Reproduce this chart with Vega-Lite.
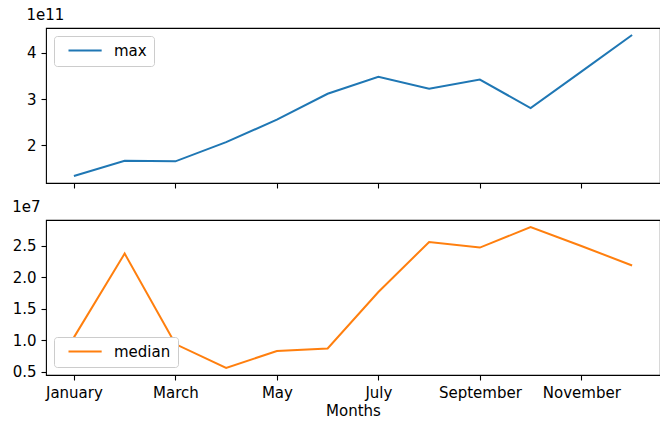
{
  "$schema": "https://vega.github.io/schema/vega-lite/v6.json",
  "padding": {"left": 11, "top": 7, "right": 1, "bottom": 2},
  "background": "white",
  "config": {
    "font": "DejaVu Sans",
    "view": {"stroke": "#000", "strokeWidth": 1.1},
    "axis": {"domain": false, "grid": false, "tickColor": "#000", "tickSize": 5, "tickWidth": 1.1, "labelColor": "#000", "labelFontSize": 15, "labelPadding": 5, "titleFontWeight": "normal", "titleColor": "#000", "titleFontSize": 15},
    "title": {"fontSize": 15, "fontWeight": "normal", "anchor": "start", "color": "#000", "offset": 5},
    "legend": {"fillColor": "white", "strokeColor": "#cccccc", "cornerRadius": 3, "padding": 7, "symbolType": "M0,0H10", "symbolSize": 44, "symbolStrokeWidth": 2, "labelFontSize": 15, "labelColor": "#000", "labelOffset": 38, "offset": 8},
    "concat": {"spacing": 9}
  },
  "data": {"values": [
    {"m": 0, "month": "January", "stat": "max", "value": 1.343e11},
    {"m": 1, "month": "February", "stat": "max", "value": 1.67e11},
    {"m": 2, "month": "March", "stat": "max", "value": 1.657e11},
    {"m": 3, "month": "April", "stat": "max", "value": 2.07e11},
    {"m": 4, "month": "May", "stat": "max", "value": 2.557e11},
    {"m": 5, "month": "June", "stat": "max", "value": 3.113e11},
    {"m": 6, "month": "July", "stat": "max", "value": 3.477e11},
    {"m": 7, "month": "August", "stat": "max", "value": 3.22e11},
    {"m": 8, "month": "September", "stat": "max", "value": 3.42e11},
    {"m": 9, "month": "October", "stat": "max", "value": 2.805e11},
    {"m": 10, "month": "November", "stat": "max", "value": 3.59e11},
    {"m": 11, "month": "December", "stat": "max", "value": 4.378e11},
    {"m": 0, "month": "January", "stat": "median", "value": 1.043e7},
    {"m": 1, "month": "February", "stat": "median", "value": 2.373e7},
    {"m": 2, "month": "March", "stat": "median", "value": 0.937e7},
    {"m": 3, "month": "April", "stat": "median", "value": 0.558e7},
    {"m": 4, "month": "May", "stat": "median", "value": 0.826e7},
    {"m": 5, "month": "June", "stat": "median", "value": 0.868e7},
    {"m": 6, "month": "July", "stat": "median", "value": 1.763e7},
    {"m": 7, "month": "August", "stat": "median", "value": 2.557e7},
    {"m": 8, "month": "September", "stat": "median", "value": 2.468e7},
    {"m": 9, "month": "October", "stat": "median", "value": 2.794e7},
    {"m": 10, "month": "November", "stat": "median", "value": 2.494e7},
    {"m": 11, "month": "December", "stat": "median", "value": 2.184e7}
  ]},
  "vconcat": [
    {
      "width": 614, "height": 155,
      "title": "1e11",
      "transform": [{"filter": "datum.stat === 'max'"}],
      "mark": {"type": "line", "strokeWidth": 2},
      "encoding": {
        "x": {"field": "m", "type": "quantitative", "scale": {"domain": [-0.55, 11.55], "nice": false, "zero": false}, "axis": {"values": [0, 2, 4, 6, 8, 10], "labels": false, "title": null}},
        "y": {"field": "value", "type": "quantitative", "scale": {"domain": [1.191e11, 4.53e11], "nice": false, "zero": false}, "axis": {"values": [2e11, 3e11, 4e11], "labelExpr": "format(datum.value/1e11,'d')", "title": null}},
        "color": {"field": "stat", "type": "nominal", "scale": {"domain": ["max"], "range": ["#1f77b4"]}, "legend": {"title": null, "orient": "top-left"}}
      }
    },
    {
      "width": 614, "height": 155,
      "title": "1e7",
      "transform": [{"filter": "datum.stat === 'median'"}],
      "mark": {"type": "line", "strokeWidth": 2},
      "encoding": {
        "x": {"field": "m", "type": "quantitative", "scale": {"domain": [-0.55, 11.55], "nice": false, "zero": false}, "axis": {"values": [0, 2, 4, 6, 8, 10], "labelExpr": "['January','February','March','April','May','June','July','August','September','October','November','December'][datum.value]", "title": "Months", "titlePadding": 3}},
        "y": {"field": "value", "type": "quantitative", "scale": {"domain": [0.446e7, 2.906e7], "nice": false, "zero": false}, "axis": {"values": [5e6, 1e7, 1.5e7, 2e7, 2.5e7], "labelExpr": "format(datum.value/1e7,'.1f')", "title": null}},
        "color": {"field": "stat", "type": "nominal", "scale": {"domain": ["median"], "range": ["#ff7f0e"]}, "legend": {"title": null, "orient": "bottom-left"}}
      }
    }
  ],
  "resolve": {"scale": {"color": "independent", "y": "independent"}, "legend": {"color": "independent"}}
}
